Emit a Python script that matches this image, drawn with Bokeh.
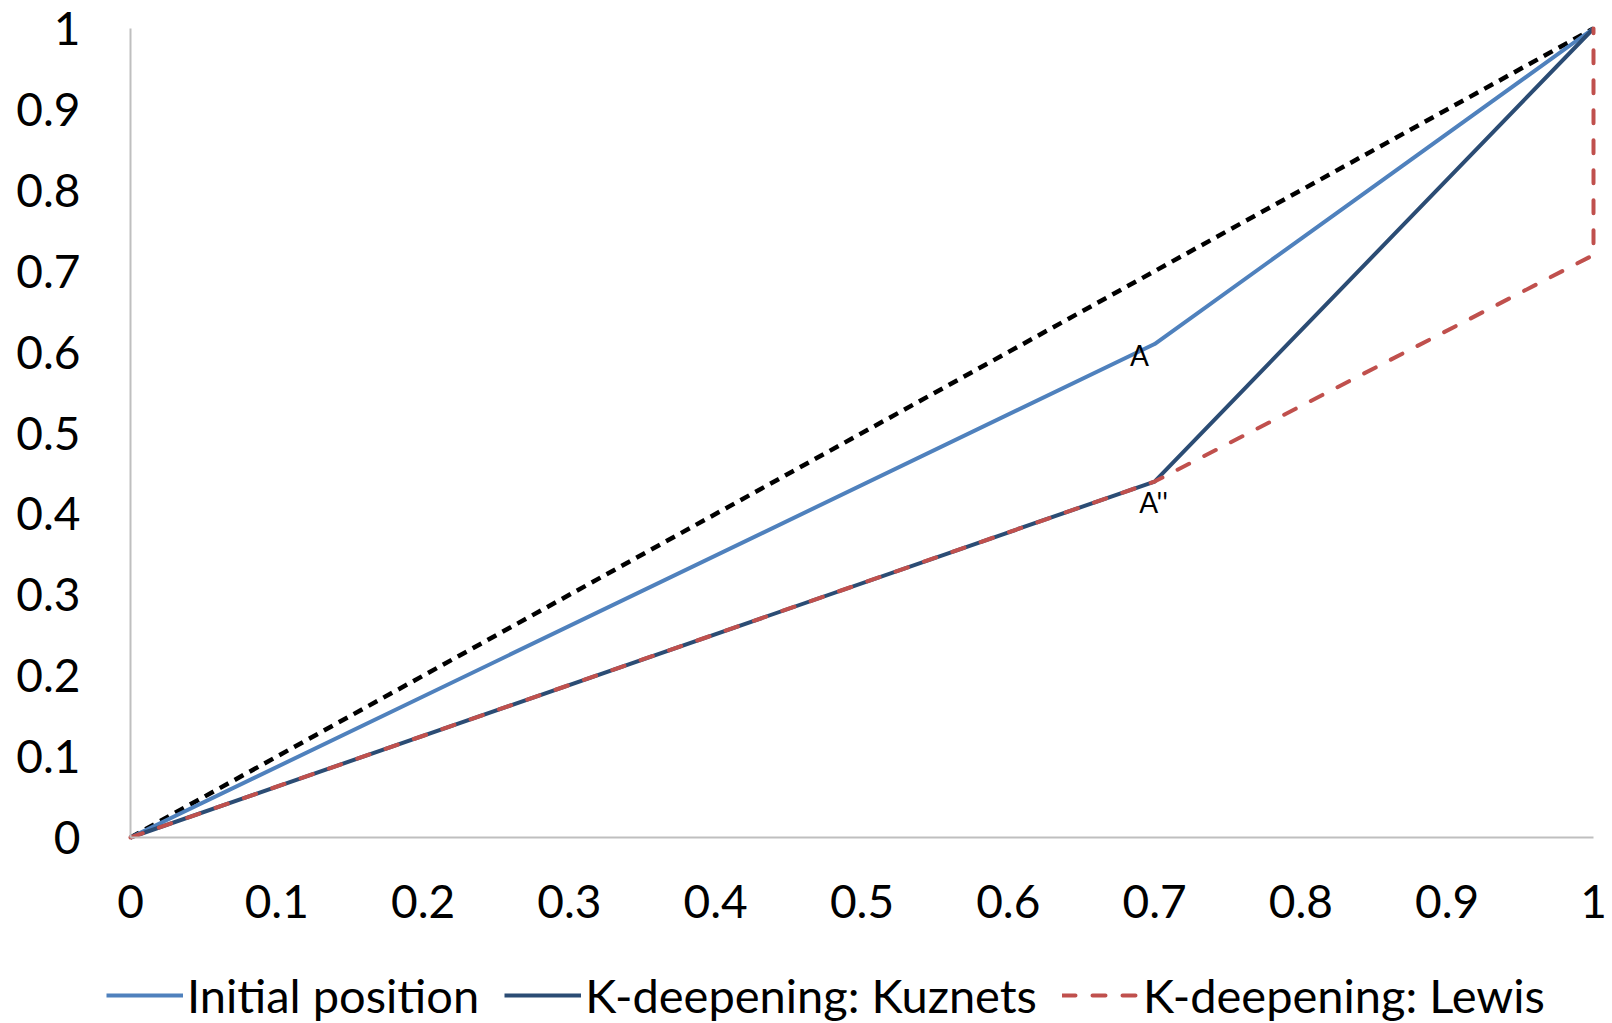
from bokeh.plotting import figure
from bokeh.models import FixedTicker, Legend, LegendItem, Range1d, ColumnDataSource
from bokeh.core.properties import value
from bokeh.embed import file_html
from bokeh.resources import INLINE

# data
diag_x = [0, 1]
diag_y = [0, 1]
initial_x = [0, 0.7, 1]
initial_y = [0, 0.61, 1]
kuznets_x = [0, 0.7, 1]
kuznets_y = [0, 0.44, 1]
lewis_x = [0, 0.7, 1, 1]
lewis_y = [0, 0.44, 0.72, 1]
label_text = ["A", "A''"]
label_x = [0.7, 0.7]
label_y = [0.61, 0.44]
ticks = [0, 0.1, 0.2, 0.3, 0.4, 0.5, 0.6, 0.7, 0.8, 0.9, 1]
series_names = ["Initial position", "K-deepening: Kuznets", "K-deepening: Lewis"]

FONT = "Lato"
C_INIT = "#4F81BD"
C_KUZ = "#2B4C74"
C_LEW = "#C0504D"

# layout (pixels): plotting area of the data spans x 130..1593, y 28..837
W, H = 1612, 1023
L, R, T, B = 130, 1593, 28, 837
sx = R - L
sy = B - T
x_range = Range1d(-L / sx, 1 + (W - R) / sx)
y_range = Range1d(-(H - B) / sy, 1 + T / sy)

p = figure(width=W, height=H, output_backend="svg", toolbar_location=None,
           x_range=x_range, y_range=y_range, min_border=0,
           min_border_left=0, min_border_right=0, min_border_top=0, min_border_bottom=0)
p.outline_line_color = None
p.xgrid.visible = False
p.ygrid.visible = False

for ax in (p.xaxis[0], p.yaxis[0]):
    ax.ticker = FixedTicker(ticks=ticks)
    ax.major_label_overrides = {0: "0", 1: "1"}
    ax.fixed_location = 0
    ax.bounds = (0, 1)
    ax.axis_line_color = "#BFBFBF"
    ax.axis_line_width = 2
    ax.major_tick_line_color = None
    ax.minor_tick_line_color = None
    ax.major_label_text_font = FONT
    ax.major_label_text_font_size = "46px"
    ax.major_label_text_color = "#000000"
p.yaxis[0].major_label_standoff = 44
p.xaxis[0].major_label_standoff = 41

p.line(diag_x, diag_y, line_color="black", line_width=4.5, line_dash="10 7")
r1 = p.line(initial_x, initial_y, line_color=C_INIT, line_width=4)
r2 = p.line(kuznets_x, kuznets_y, line_color=C_KUZ, line_width=4)
r3 = p.line(lewis_x, lewis_y, line_color=C_LEW, line_width=4, line_dash="13 17",
            line_cap="round")

src = ColumnDataSource(dict(x=label_x, y=label_y, t=label_text,
                            xo=[-15, -1], yo=[11, 20]))
p.text(x="x", y="y", text="t", x_offset="xo", y_offset="yo", source=src,
       text_font=value(FONT), text_font_size="28px", text_align="center",
       text_baseline="middle", text_color="black")

legend = Legend(items=[LegendItem(label=series_names[0], renderers=[r1]),
                       LegendItem(label=series_names[1], renderers=[r2]),
                       LegendItem(label=series_names[2], renderers=[r3])],
                orientation="horizontal", location=(106, 0),
                glyph_width=77, glyph_height=20, label_standoff=4, spacing=25,
                padding=0, margin=0, border_line_color=None, background_fill_alpha=0,
                label_text_font=FONT, label_text_font_size="47px", label_text_color="black")
p.add_layout(legend, "center")

open("out.html", "w").write(file_html(p, INLINE))
